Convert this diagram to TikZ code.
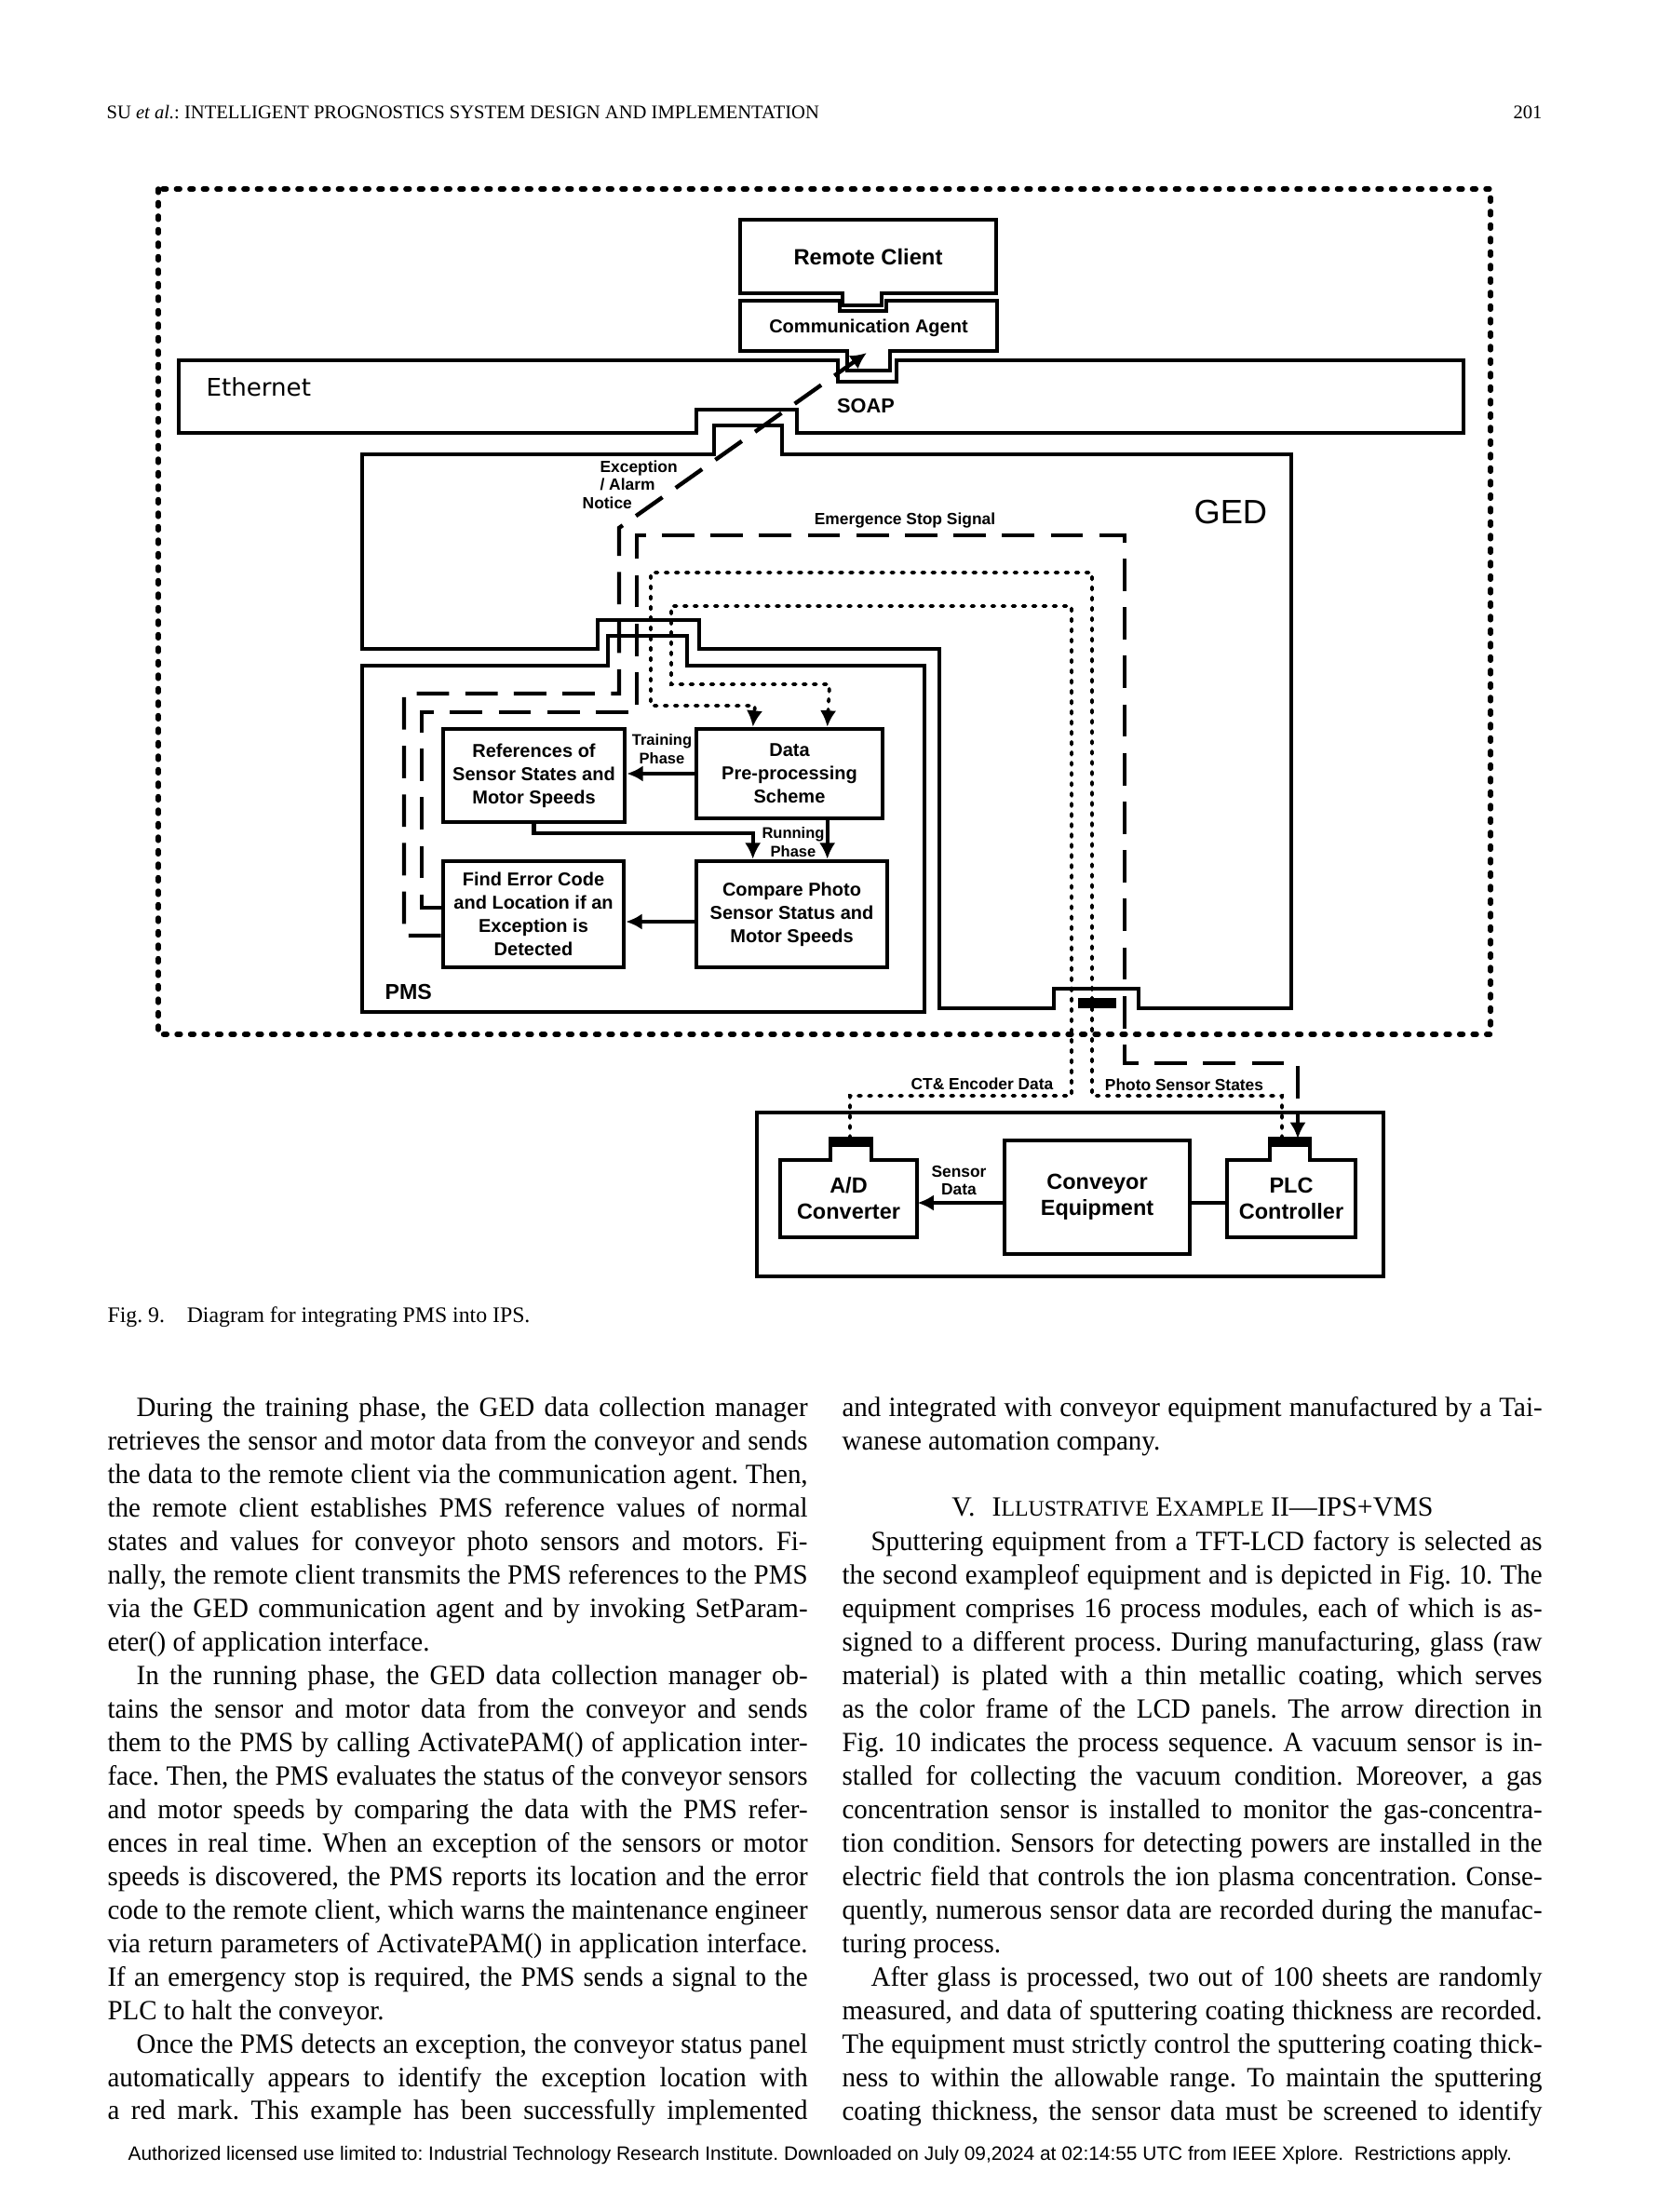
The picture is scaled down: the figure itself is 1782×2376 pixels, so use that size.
\documentclass[tikz,border=0pt]{standalone}
\usepackage{fontspec}
\setmainfont{Liberation Serif}
\newfontfamily\bodyfont[FakeStretch=0.97]{Liberation Serif}
\newfontfamily\dgfont{Liberation Sans}
\newfontfamily\ethfont{DejaVu Sans}
\usepackage{tikz}
\usetikzlibrary{arrows.meta,calc,positioning}
\frenchspacing
\newcommand{\pxu}{0.3448pt}
\newlength{\colw}\setlength{\colw}{259.3pt}
\newcommand{\jline}[1]{\makebox[\colw][s]{\strut#1}\\}
\newcommand{\eline}[1]{\strut#1\\}
\newcommand{\pind}{\hspace*{10.7pt}}
\newcommand{\smc}[1]{{\fontsize{8.2}{10}\selectfont #1}}

\begin{document}
\begin{tikzpicture}[
    x=0.3448pt, y=-0.3448pt,
    blk/.style={draw, line width=1.6pt, inner sep=0pt, align=center, font=\dgfont\bfseries\fontsize{6.9}{8.6}\selectfont},
    big/.style={inner sep=0pt, align=center, font=\dgfont\bfseries\fontsize{8.1}{9.7}\selectfont},
    tag/.style={inner sep=0pt, align=center, font=\dgfont\bfseries\fontsize{6}{6.7}\selectfont},
    wire/.style={line width=1.5pt},
    arr/.style={line width=1.5pt, -{Latex[length=6pt,width=6pt]}},
    sigdash/.style={dash pattern=on 12pt off 6pt},
    sigdot/.style={line width=1.3pt, dash pattern=on 1pt off 2.8pt, line cap=round},
    outerframe/.style={line width=1.9pt, dash pattern=on 1.3pt off 3.7pt, line cap=round},
    bodytxt/.style={inner sep=0pt, align=left, font=\bodyfont\fontsize{10.3}{12.4}\selectfont},
  ]
  \fill[white] (0,0) rectangle (1782,2376);
  \useasboundingbox (0,0) rectangle (1782,2376);

  % page head
  \node[anchor=base west, inner sep=0pt, font=\fontsize{7.1}{8}\selectfont] (hdr) at (114,128)
    {SU \textit{et al.}: INTELLIGENT PROGNOSTICS SYSTEM DESIGN AND IMPLEMENTATION};
  \node[anchor=base east, inner sep=0pt, font=\fontsize{7.1}{8}\selectfont] (pg) at (1657,128) {201};

  % outer frame
  \draw[outerframe] (170,203) rectangle (1601,1111);

  % remote client and communication agent
  \node[big, font=\dgfont\bfseries\fontsize{8.2}{9.8}\selectfont, minimum width=275*\pxu, minimum height=79*\pxu] (rc) at (932.5,276) {Remote Client};
  \draw[wire] (795,236) -- (1070,236) -- (1070,315) -- (947,315) -- (947,328) -- (905,328) -- (905,315) -- (795,315) -- cycle;
  \node[blk, draw=none, minimum width=276*\pxu, minimum height=54*\pxu] (ca) at (933,352) {Communication Agent};
  \draw[wire] (795,323) -- (902,323) -- (902,334) -- (952,334) -- (952,323) -- (1071,323) -- (1071,377)
    -- (956,377) -- (956,398) -- (910,398) -- (910,377) -- (795,377) -- cycle;
  \coordinate (soapin) at (931,379);

  % Ethernet
  \draw[wire] (192,387) -- (900,387) -- (900,410) -- (963,410) -- (963,387) -- (1572,387) -- (1572,465)
    -- (856,465) -- (856,440) -- (748,440) -- (748,465) -- (192,465) -- cycle;
  \node[anchor=base west, inner sep=0pt, font=\ethfont\fontsize{9}{10}\selectfont] (eth) at (221,425) {Ethernet};
  \node[anchor=base, inner sep=0pt, font=\dgfont\bfseries\fontsize{7.5}{9}\selectfont] (soap) at (930,443) {SOAP};

  % GED
  \draw[wire] (389,488) -- (767,488) -- (767,457) -- (840,457) -- (840,488) -- (1387,488) -- (1387,1083)
    -- (1223,1083) -- (1223,1062) -- (1132,1062) -- (1132,1083) -- (1009,1083) -- (1009,697)
    -- (751,697) -- (751,666) -- (642,666) -- (642,697) -- (389,697) -- cycle;
  \fill (1158,1072) rectangle (1199,1083);
  \node[anchor=base west, inner sep=0pt, font=\dgfont\fontsize{12.5}{14}\selectfont] (ged) at (1282,562) {GED};

  % PMS
  \draw[wire] (389,715) -- (653,715) -- (653,683) -- (738,683) -- (738,715) -- (993,715) -- (993,1087) -- (389,1087) -- cycle;
  \node[anchor=base west, inner sep=0pt, font=\dgfont\bfseries\fontsize{8}{9}\selectfont] (pms) at (413,1073) {PMS};

  \node[blk, minimum width=195*\pxu, minimum height=100*\pxu] (ref) at (573.5,833) {References of\\Sensor States and\\Motor Speeds};
  \node[blk, minimum width=200*\pxu, minimum height=96*\pxu] (pre) at (848,831) {Data\\Pre-processing\\Scheme};
  \node[blk, minimum width=194*\pxu, minimum height=114*\pxu] (err) at (573,982) {Find Error Code\\and Location if an\\Exception is\\Detected};
  \node[blk, minimum width=205*\pxu, minimum height=114*\pxu] (cmp) at (850.5,982) {Compare Photo\\Sensor Status and\\Motor Speeds};

  \draw[arr] (pre.west) -- (pre.west -| ref.east);
  \node[tag, font=\dgfont\bfseries\fontsize{5.7}{6.9}\selectfont] (trn) at (711,805) {Training\\Phase};
  \draw[arr] (ref.south) |- ($(cmp.north west)+(63,-28)$) -- ($(cmp.north west)+(63,0)$);
  \draw[arr] ($(pre.south west)+(143,0)$) coordinate (p1) -- (p1 |- cmp.north);
  \node[tag, font=\dgfont\bfseries\fontsize{5.7}{6.9}\selectfont] (run) at (852,905) {Running\\Phase};
  \draw[arr] ($(cmp.west)+(0,8)$) coordinate (c1) -- (c1 -| err.east);

  % conveyor side
  \node[draw, line width=1.5pt, minimum width=673*\pxu, minimum height=176*\pxu] (cvbox) at (1149.5,1283) {};
  \node[big, draw, line width=1.6pt, minimum width=199*\pxu, minimum height=122*\pxu] (conv) at (1178.5,1286) {Conveyor\\Equipment};
  \draw[wire] (838,1246) -- (892,1246) -- (892,1223) -- (936,1223) -- (936,1246) -- (985,1246) -- (985,1329) -- (838,1329) -- cycle;
  \fill (892,1223) rectangle (936,1232);
  \node[big, minimum width=147*\pxu, minimum height=83*\pxu] (ad) at (911.5,1287.5) {A/D\\Converter};
  \draw[wire] (1318,1246) -- (1364,1246) -- (1364,1223) -- (1407,1223) -- (1407,1246) -- (1456,1246) -- (1456,1329) -- (1318,1329) -- cycle;
  \fill (1364,1223) rectangle (1407,1232);
  \node[big, minimum width=138*\pxu, minimum height=83*\pxu] (plc) at (1387,1287.5) {PLC\\Controller};
  \coordinate (adin) at (913,1223);
  \coordinate (plcout) at (1377,1223);
  \coordinate (plcin) at (1394,1223);

  \draw[arr] ($(conv.west)+(0,6)$) coordinate (s1) -- (s1 -| ad.east);
  \node[tag, font=\dgfont\bfseries\fontsize{6}{6.6}\selectfont] (sd) at (1030,1268) {Sensor\\Data};
  \draw[wire] ($(conv.east)+(0,6)$) coordinate (s2) -- (s2 -| plc.west);

  % signal lines
  \draw[arr, sigdash] ($(err.west)+(0,23)$) -| (434,745) -| (665,567) -- (soapin);
  \node[tag, align=left, anchor=north west] (exc) at (644,494) {Exception\\/ Alarm\\\hspace*{-6.5pt}Notice};
  \draw[arr, sigdash] ($(err.west)+(0,-7)$) -| (453,765) -| (684,575) -| (1208,1142) -| (plcin);
  \node[tag] (ess) at (972,559) {Emergence Stop Signal};
  \draw[arr, sigdot] (plcout) |- (1173,1177) |- (699,615) |- (811,758) -- ($(pre.north west)+(63,0)$);
  \node[tag] (pss) at (1272,1165) {Photo Sensor States};
  \draw[arr, sigdot] (adin) |- (1151,1177) |- (721,651) |- (891,735) -- ($(pre.north west)+(143,0)$);
  \node[tag] (cte) at (1055,1164) {CT\& Encoder Data};

  % caption and text
  \node[anchor=base west, inner sep=0pt, font=\fontsize{8.2}{10}\selectfont] (cap) at (115,1420)
    {Fig. 9.\hspace{1em}Diagram for integrating PMS into IPS.};

  \node[bodytxt, anchor=north west] (colL) at (115,1496) {%
    \jline{\pind During the training phase, the GED data collection manager}
    \jline{retrieves the sensor and motor data from the conveyor and sends}
    \jline{the data to the remote client via the communication agent. Then,}
    \jline{the remote client establishes PMS reference values of normal}
    \jline{states and values for conveyor photo sensors and motors. Fi-}
    \jline{nally, the remote client transmits the PMS references to the PMS}
    \jline{via the GED communication agent and by invoking SetParam-}
    \eline{eter() of application interface.}
    \jline{\pind In the running phase, the GED data collection manager ob-}
    \jline{tains the sensor and motor data from the conveyor and sends}
    \jline{them to the PMS by calling ActivatePAM() of application inter-}
    \jline{face. Then, the PMS evaluates the status of the conveyor sensors}
    \jline{and motor speeds by comparing the data with the PMS refer-}
    \jline{ences in real time. When an exception of the sensors or motor}
    \jline{speeds is discovered, the PMS reports its location and the error}
    \jline{code to the remote client, which warns the maintenance engineer}
    \jline{via return parameters of ActivatePAM() in application interface.}
    \jline{If an emergency stop is required, the PMS sends a signal to the}
    \eline{PLC to halt the conveyor.}
    \jline{\pind Once the PMS detects an exception, the conveyor status panel}
    \jline{automatically appears to identify the exception location with}
    \makebox[\colw][s]{\strut a red mark. This example has been successfully implemented}};

  \node[bodytxt, anchor=north west] (colR) at (904,1496) {%
    \jline{and integrated with conveyor equipment manufactured by a Tai-}
    \strut wanese automation company.};
  \node[anchor=base, inner sep=0pt, font=\fontsize{10.3}{12.4}\selectfont] (sec) at (1281,1628)
    {V.\hspace{0.6em}I\smc{LLUSTRATIVE} E\smc{XAMPLE} II—IPS+VMS};
  \node[bodytxt, anchor=north west] (colR2) at (904,1640) {%
    \jline{\pind Sputtering equipment from a TFT-LCD factory is selected as}
    \jline{the second exampleof equipment and is depicted in Fig. 10. The}
    \jline{equipment comprises 16 process modules, each of which is as-}
    \jline{signed to a different process. During manufacturing, glass (raw}
    \jline{material) is plated with a thin metallic coating, which serves}
    \jline{as the color frame of the LCD panels. The arrow direction in}
    \jline{Fig. 10 indicates the process sequence. A vacuum sensor is in-}
    \jline{stalled for collecting the vacuum condition. Moreover, a gas}
    \jline{concentration sensor is installed to monitor the gas-concentra-}
    \jline{tion condition. Sensors for detecting powers are installed in the}
    \jline{electric field that controls the ion plasma concentration. Conse-}
    \jline{quently, numerous sensor data are recorded during the manufac-}
    \eline{turing process.}
    \jline{\pind After glass is processed, two out of 100 sheets are randomly}
    \jline{measured, and data of sputtering coating thickness are recorded.}
    \jline{The equipment must strictly control the sputtering coating thick-}
    \jline{ness to within the allowable range. To maintain the sputtering}
    \makebox[\colw][s]{\strut coating thickness, the sensor data must be screened to identify}};

  % foot
  \node[anchor=base west, inner sep=0pt, font=\dgfont\fontsize{7.2}{8}\selectfont] (foot) at (137,2320)
    {Authorized licensed use limited to: Industrial Technology Research Institute. Downloaded on July 09,2024 at 02:14:55 UTC from IEEE Xplore.\ \ Restrictions apply.};
\end{tikzpicture}
\end{document}
